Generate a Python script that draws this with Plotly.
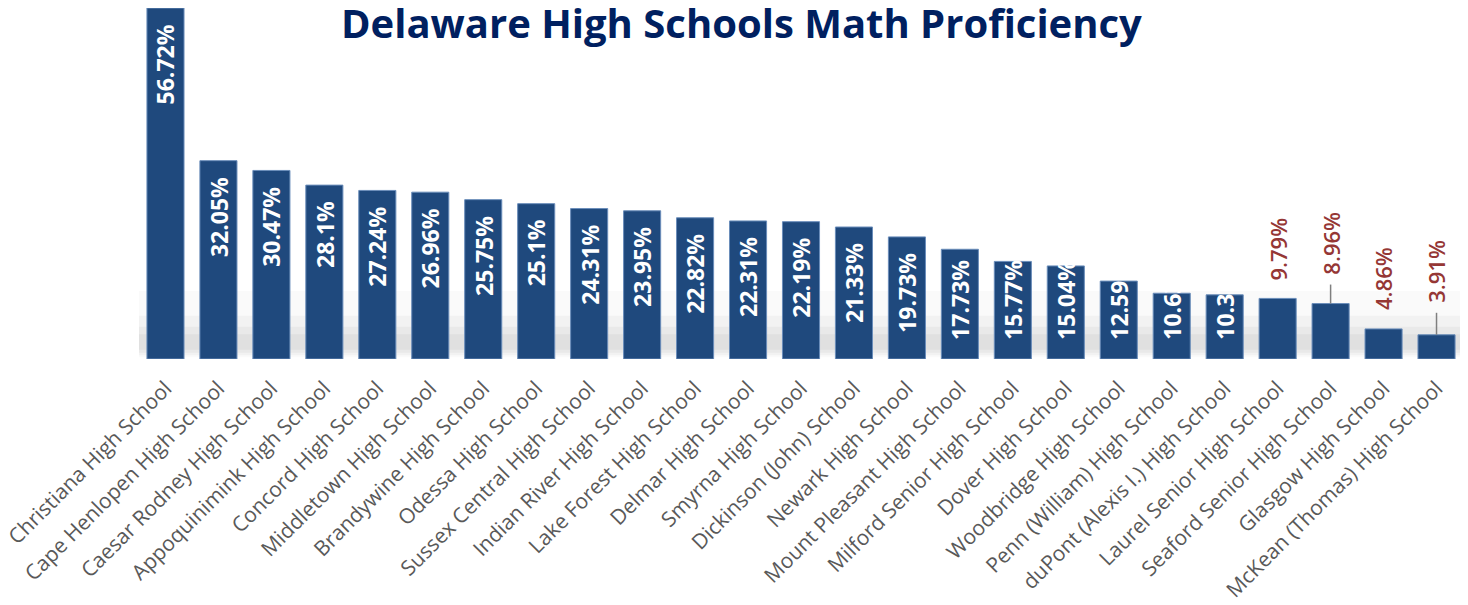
import plotly.graph_objects as go

# ---------------- data ----------------
schools = [
    "Christiana High School", "Cape Henlopen High School", "Caesar Rodney High School",
    "Appoquinimink High School", "Concord High School", "Middletown High School",
    "Brandywine High School", "Odessa High School", "Sussex Central High School",
    "Indian River High School", "Lake Forest High School", "Delmar High School",
    "Smyrna High School", "Dickinson (John) School", "Newark High School",
    "Mount Pleasant High School", "Milford Senior High School", "Dover High School",
    "Woodbridge High School", "Penn (William) High School", "duPont (Alexis I.) High School",
    "Laurel Senior High School", "Seaford Senior High School", "Glasgow High School",
    "McKean (Thomas) High School",
]
proficiency = [
    56.72, 32.05, 30.47, 28.1, 27.24, 26.96, 25.75, 25.1, 24.31, 23.95, 22.82, 22.31,
    22.19, 21.33, 19.73, 17.73, 15.77, 15.04, 12.59, 10.63, 10.37, 9.79, 8.96, 4.86, 3.91,
]
title_text = "Delaware High Schools Math Proficiency"

# ---------------- styling ----------------
W, H = 1468, 605
M_L, M_R, M_T, M_B = 131, 13, 0, 254
BAR_COLOR = "#1F497D"
BAR_EDGE = "#6A8DBA"
TITLE_COLOR = "#002060"
OUT_COLOR = "#953735"
TICK_COLOR = "#595959"
FONT = "Open Sans"

y_max = max(proficiency)
plot_h = H - M_T - M_B
ppu = plot_h / y_max  # pixels per unit

# outside-label offsets (px gap between bar top and label) and leader lines
outside_gap = {21: 16, 22: 27, 23: 17, 24: 30}
leader = {22, 24}

fig = go.Figure()
fig.add_trace(go.Bar(
    x=schools, y=proficiency,
    marker=dict(color=BAR_COLOR, line=dict(color=BAR_EDGE, width=1)),
    hoverinfo="x+y",
))

# soft shadow band behind bars
for y0, y1, op in [(0.3, 11.0, 0.035), (0.6, 7.0, 0.06), (1.0, 5.2, 0.07), (1.5, 4.0, 0.08)]:
    fig.add_shape(type="rect", xref="paper", yref="y", x0=0.0, x1=1.0, y0=y0, y1=y1,
                  fillcolor="#7F7F7F", opacity=op, line=dict(width=0), layer="below")

annotations = []
for i, (s, v) in enumerate(zip(schools, proficiency)):
    txt = f"{v:g}%"
    if i in outside_gap:
        gap = outside_gap[i]
        annotations.append(dict(
            x=s, y=v, xref="x", yref="y", text=txt, textangle=-90, showarrow=False,
            yanchor="bottom", yshift=gap,
            font=dict(family=FONT, size=22, color=OUT_COLOR, weight=600),
        ))
        if i in leader:
            fig.add_shape(type="line", xref="x", yref="y", x0=s, x1=s,
                          y0=v, y1=v + (gap - 8) / ppu,
                          line=dict(color="#7F7F7F", width=1.5))
    else:
        L = 13 * len(txt)
        if v * ppu - 15 - L < 17:
            annotations.append(dict(
                x=s, y=0, xref="x", yref="y", text=txt, textangle=-90, showarrow=False,
                yanchor="bottom", yshift=17,
                font=dict(family=FONT, size=23, color="white", weight="bold"),
            ))
        else:
            annotations.append(dict(
                x=s, y=v, xref="x", yref="y", text=txt, textangle=-90, showarrow=False,
                yanchor="top", yshift=-14,
                font=dict(family=FONT, size=23, color="white", weight="bold"),
            ))

annotations.append(dict(
    x=0.4554, y=1.0, xref="paper", yref="paper", text=title_text,
    showarrow=False, xanchor="center", yanchor="top", yshift=15,
    font=dict(family=FONT, size=40, color=TITLE_COLOR, weight="bold"),
))

fig.update_layout(
    width=W, height=H,
    margin=dict(l=M_L, r=M_R, t=M_T, b=M_B, autoexpand=False),
    plot_bgcolor="white", paper_bgcolor="white",
    bargap=0.30,
    showlegend=False,
    annotations=annotations,
    xaxis=dict(tickangle=-45, tickfont=dict(family=FONT, size=21, color=TICK_COLOR),
               showgrid=False, showline=False, ticks="", automargin=False,
               ticklabelstandoff=12),
    yaxis=dict(range=[0, y_max], visible=False, showgrid=False, zeroline=False),
)

fig.write_html("out.html")
